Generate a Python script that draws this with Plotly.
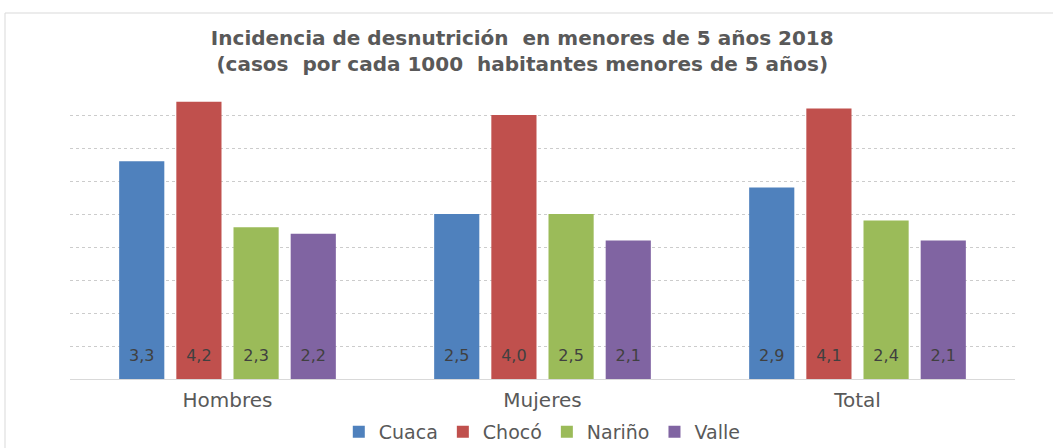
import plotly.graph_objects as go

categories = ["Hombres", "Mujeres", "Total"]
series_names = ["Cuaca", "Chocó", "Nariño", "Valle"]
cuaca = [3.3, 2.5, 2.9]
choco = [4.2, 4.0, 4.1]
narino = [2.3, 2.5, 2.4]
valle = [2.2, 2.1, 2.1]
colors = ["#4F81BD", "#C0504D", "#9BBB59", "#8064A2"]

FONT = "DejaVu Sans, Verdana, sans-serif"
LABEL_Y = 0.34  # vertical placement of the value labels inside the bars

fig = go.Figure()
for name, vals, col in zip(series_names, [cuaca, choco, narino, valle], colors):
    fig.add_trace(go.Bar(
        x=categories, y=vals, name=name, offsetgroup=name,
        marker=dict(color=col, line=dict(width=0)),
    ))
for name, vals in zip(series_names, [cuaca, choco, narino, valle]):
    fig.add_trace(go.Scatter(
        x=categories, y=[LABEL_Y] * len(vals), mode="text", offsetgroup=name,
        text=[f"{v:.1f}".replace(".", ",") for v in vals],
        textposition="middle center",
        textfont=dict(color="#404040", size=16, family=FONT),
        showlegend=False, hoverinfo="skip",
    ))

fig.update_layout(
    width=1053, height=448,
    paper_bgcolor="white", plot_bgcolor="white",
    margin=dict(l=70, r=38, t=82, b=69, autoexpand=False),
    barmode="group", bargap=0.274, bargroupgap=0.21,
    scattermode="group", scattergap=0.274,
    separators=",.",
    font=dict(family=FONT, color="#595959"),
    title=dict(
        text="<b>Incidencia de desnutrición  en menores de 5 años 2018<br>(casos  por cada 1000  habitantes menores de 5 años)</b>",
        x=0.496, xanchor="center", xref="container",
        y=1 - 45/448, yanchor="middle", yref="container",
        font=dict(size=20, color="#595959", family=FONT),
    ),
    xaxis=dict(showgrid=False, showline=True, linecolor="#D9D9D9", linewidth=1,
               tickfont=dict(size=20, color="#595959"), ticks="", automargin=False,
               ticklabelstandoff=3),
    yaxis=dict(range=[0, 4.5], dtick=0.5, showticklabels=False, showgrid=True,
               gridcolor="#CCCCCC", griddash="dot", zeroline=False, showline=False,
               automargin=False),
    legend=dict(orientation="h", x=0.515, xanchor="center", xref="container",
                y=1 - 432/448, yanchor="middle", yref="container",
                font=dict(size=19, color="#595959"), itemwidth=30,
                traceorder="normal"),
    shapes=[dict(type="rect", xref="paper", yref="paper",
                 x0=-65/945, x1=1.2, y0=-0.5, y1=1 + 69/297,
                 line=dict(color="#D9D9D9", width=1), fillcolor="rgba(0,0,0,0)", layer="below")],
)

fig.write_html("out.html", config={"displayModeBar": False},
               post_script="document.body.style.margin='0';")
